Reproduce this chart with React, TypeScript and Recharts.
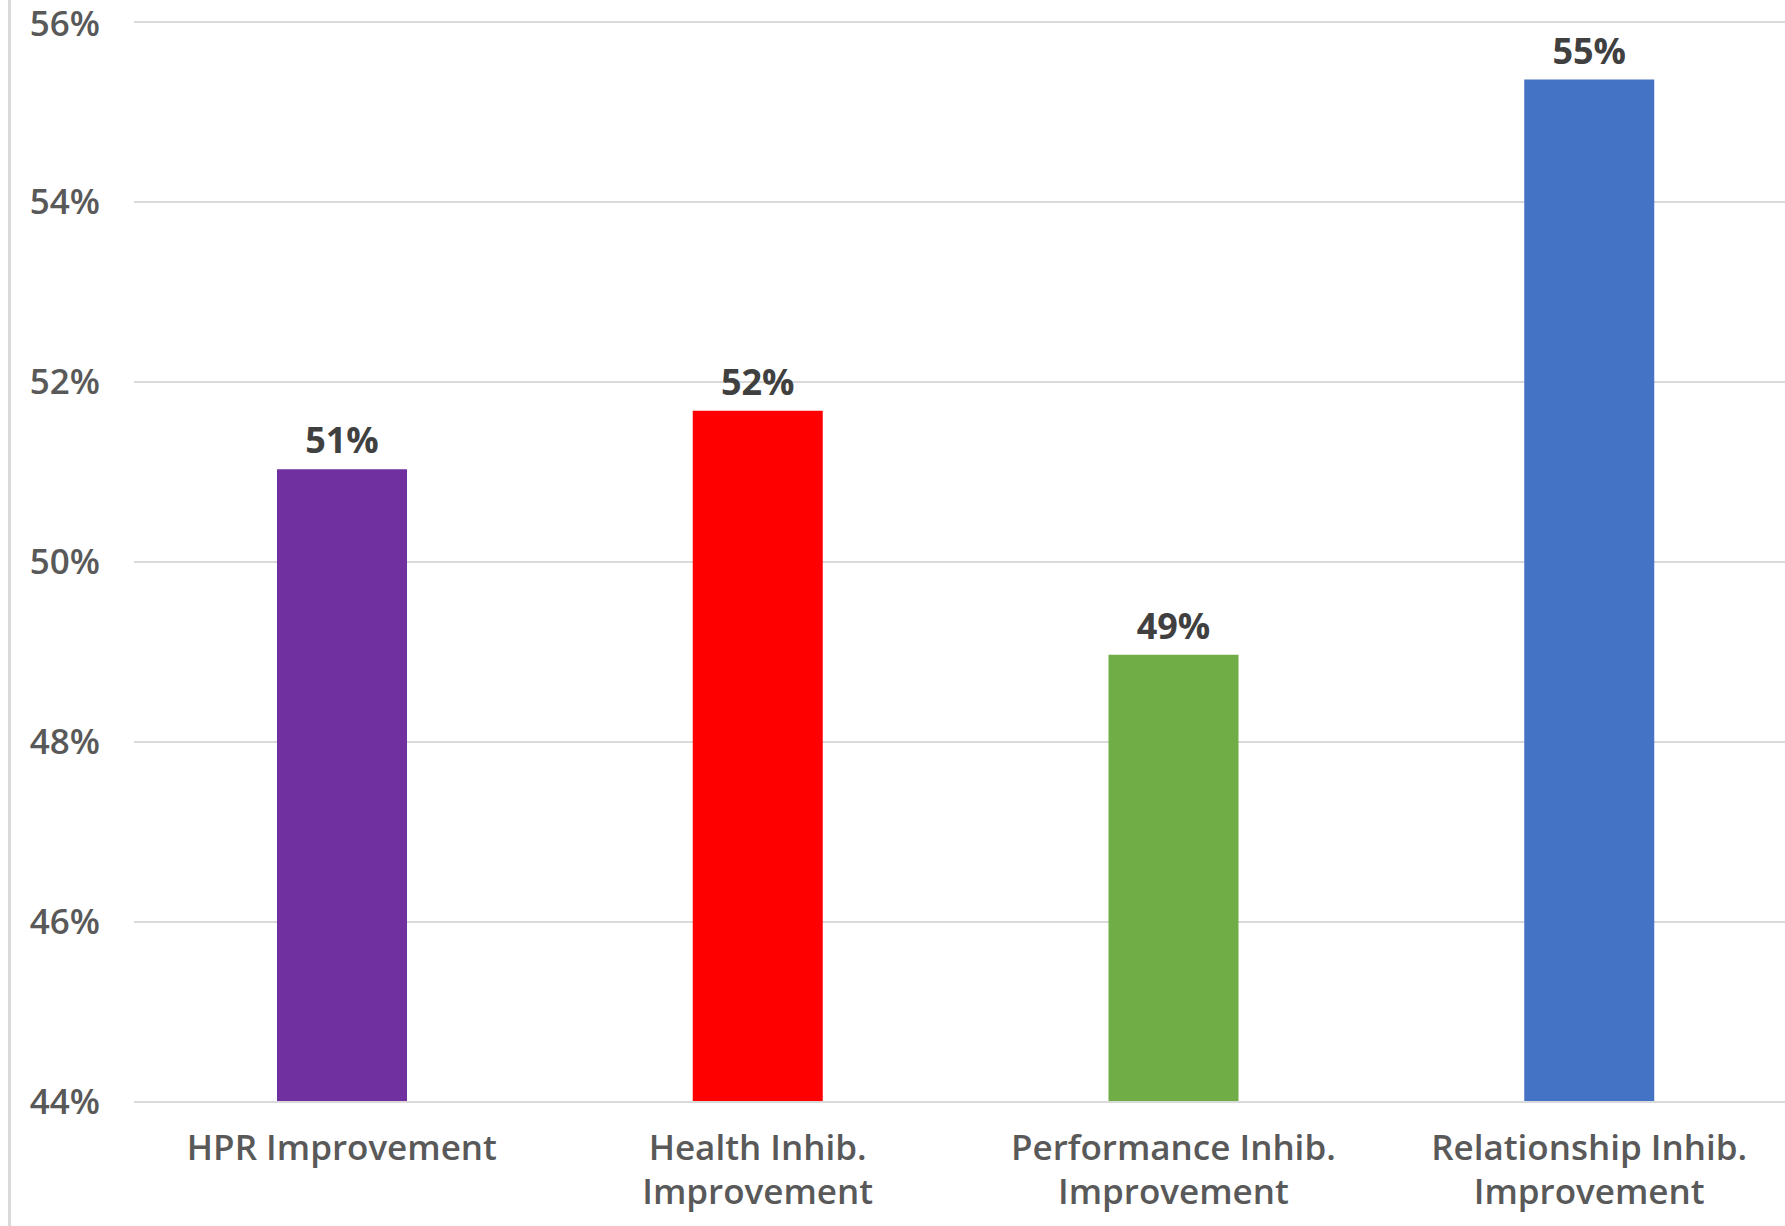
import { BarChart, Bar, XAxis, YAxis, CartesianGrid, Cell, LabelList } from "recharts";

const categories = [
  "HPR Improvement",
  "Health Inhib. Improvement",
  "Performance Inhib. Improvement",
  "Relationship Inhib. Improvement",
];
const improvementShare = [0.5103, 0.5168, 0.4897, 0.5536];
const barColors = ["#7030A0", "#FF0000", "#70AD47", "#4472C4"];
const yTicks = [0.44, 0.46, 0.48, 0.5, 0.52, 0.54, 0.56];

const data = categories.map((name, i) => ({ name, value: improvementShare[i] }));

const FONT = "'Open Sans', sans-serif";
const AXIS_GREY = "#595959";
const GRID_GREY = "#d9d9d9";

const pct = (v: number) => `${Math.round(v * 100)}%`;

// long category names go on two lines, the last word on the second one
function splitLabel(name: string) {
  const words = name.split(" ");
  if (words.length <= 2) return [name];
  return [words.slice(0, -1).join(" "), words[words.length - 1]];
}

function CategoryTick(props: any) {
  const { x, y, payload } = props;
  const lines = splitLabel(String(payload.value));
  return (
    <text
      x={x}
      y={y}
      textAnchor="middle"
      fill={AXIS_GREY}
      fontSize={35}
      fontWeight={600}
      fontFamily={FONT}
    >
      {lines.map((line, i) => (
        <tspan key={i} x={x} y={y + 25 + i * 44}>
          {line}
        </tspan>
      ))}
    </text>
  );
}

export default function App() {
  return (
    <div
      style={{
        position: "absolute",
        left: 0,
        top: 0,
        width: 1785,
        height: 1226,
        overflow: "hidden",
        background: "#fff",
        fontFamily: FONT,
      }}
    >
      <div
        style={{
          position: "absolute",
          left: 8,
          top: 0,
          width: 0,
          height: 1226,
          borderLeft: `3px solid ${GRID_GREY}`,
        }}
      />
      <BarChart
        width={1797}
        height={1226}
        data={data}
        margin={{ top: 22, right: 0, bottom: 14, left: 0 }}
      >
        <CartesianGrid vertical={false} stroke={GRID_GREY} strokeWidth={2} />
        <XAxis
          dataKey="name"
          axisLine={{ stroke: GRID_GREY, strokeWidth: 2 }}
          tickLine={false}
          tickMargin={27}
          height={110}
          interval={0}
          tick={(p: any) => <CategoryTick {...p} />}
        />
        <YAxis
          domain={[0.44, 0.56]}
          ticks={yTicks}
          tickFormatter={pct}
          width={134}
          axisLine={false}
          tickLine={false}
          tickMargin={28}
          tick={{ fill: AXIS_GREY, fontSize: 35, fontWeight: 600, fontFamily: FONT }}
        />
        <Bar dataKey="value" barSize={130} isAnimationActive={false}>
          {data.map((d, i) => (
            <Cell key={d.name} fill={barColors[i]} />
          ))}
          <LabelList
            dataKey="value"
            position="top"
            offset={16}
            formatter={(v: any) => pct(Number(v))}
            style={{ fill: "#404040", fontSize: 36, fontWeight: 700, fontFamily: FONT }}
          />
        </Bar>
      </BarChart>
    </div>
  );
}
